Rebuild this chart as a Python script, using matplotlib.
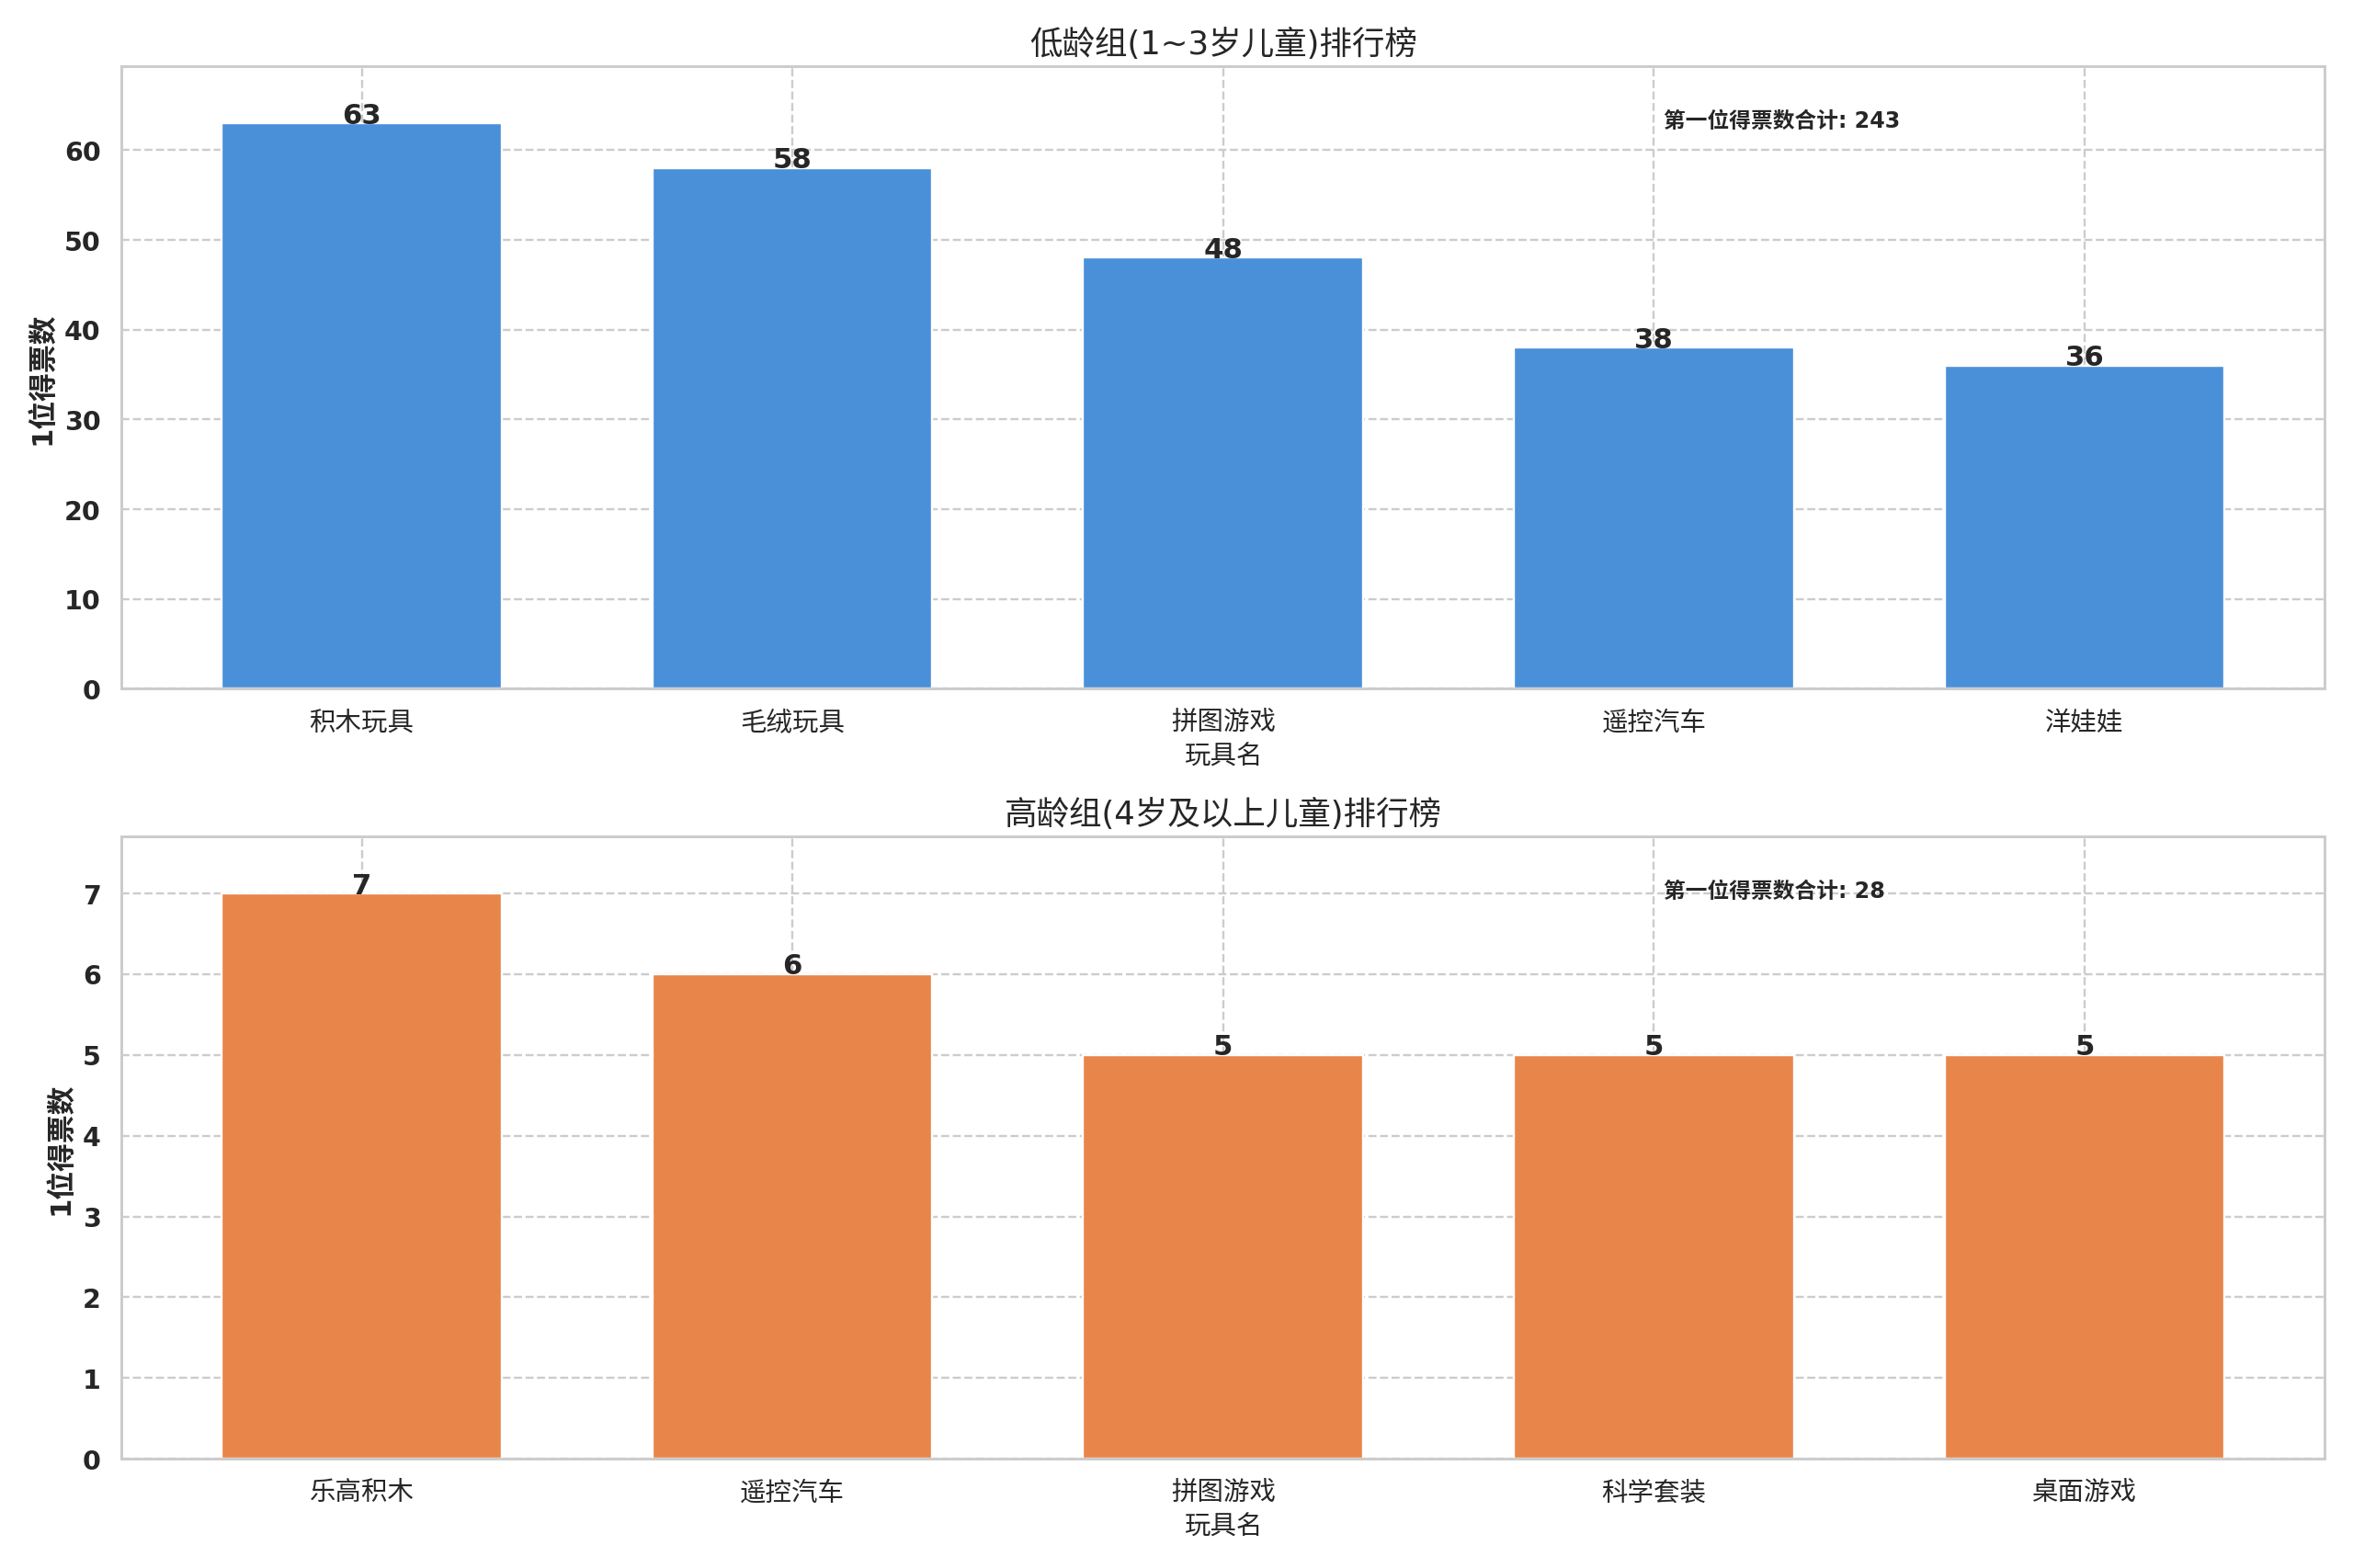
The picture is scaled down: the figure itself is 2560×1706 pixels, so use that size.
import matplotlib
matplotlib.use('Agg')
import matplotlib.pyplot as plt
import seaborn as sns

# data
young_labels = ['积木玩具', '毛绒玩具', '拼图游戏', '遥控汽车', '洋娃娃']
young_votes = [63, 58, 48, 38, 36]
older_labels = ['乐高积木', '遥控汽车', '拼图游戏', '科学套装', '桌面游戏']
older_votes = [7, 6, 5, 5, 5]

title_young = '低龄组(1~3岁儿童)排行榜'
title_older = '高龄组(4岁及以上儿童)排行榜'
x_label = '玩具名'
y_label = '1位得票数'
total_label = '第一位得票数合计'

sns.set_theme(style='whitegrid')
plt.rcParams['font.family'] = ['DejaVu Sans', 'Noto Sans CJK SC']
plt.rcParams['axes.unicode_minus'] = False

fig, axes = plt.subplots(2, 1, figsize=(15, 10), dpi=170.67)

panels = [
    (axes[0], young_labels, young_votes, '#4A90D9', title_young),
    (axes[1], older_labels, older_votes, '#E8854A', title_older),
]

for ax, labels, votes, color, title in panels:
    x = list(range(len(labels)))
    bars = ax.bar(x, votes, width=0.65, color=color)
    for b, v in zip(bars, votes):
        ax.text(b.get_x() + b.get_width() / 2, b.get_height(), str(v),
                ha='center', va='baseline', fontsize=13, fontweight='bold',
                color='#262626')
    ax.set_xticks(x)
    ax.set_xticklabels(labels, fontsize=12)
    ax.set_ylim(0, max(votes) * 1.1)
    ax.set_title(title, fontsize=15)
    ax.set_xlabel(x_label, fontsize=12)
    ax.set_ylabel(y_label, fontsize=13, fontweight='bold')
    for t in ax.get_yticklabels():
        t.set_fontweight('bold')
        t.set_fontsize(12)
    ax.grid(True, linestyle='--', linewidth=1.0, color='#cccccc')
    for s in ax.spines.values():
        s.set_color('#cccccc')
    ax.text(0.70, 0.93, f'{total_label}: {sum(votes)}', transform=ax.transAxes,
            ha='left', va='top', fontsize=10, fontweight='bold', color='#262626')

plt.tight_layout()
plt.savefig('out.png', dpi=170.67)
